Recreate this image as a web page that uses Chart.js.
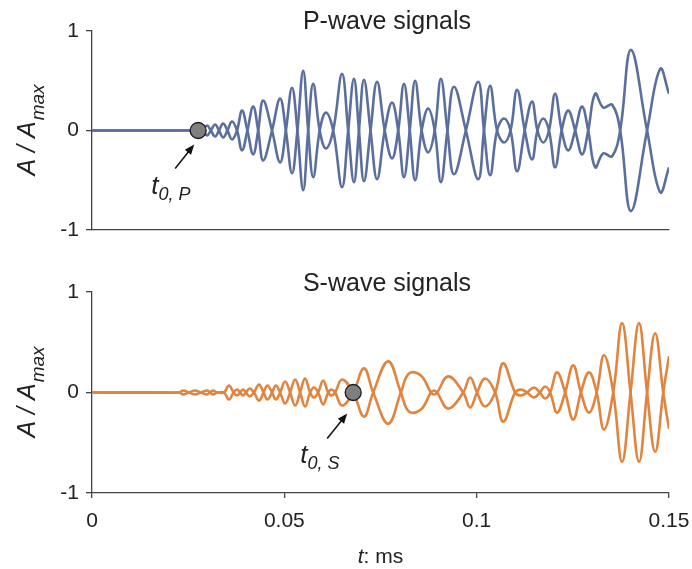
<!DOCTYPE html>
<html>
<head>
<meta charset="utf-8">
<script src="https://cdn.jsdelivr.net/npm/chart.js@4.4.0/dist/chart.umd.min.js"></script>
<style>
    html, body { margin: 0; padding: 0; background: #fff; }
    #wrap { position: relative; width: 692px; height: 569px; }
    .panel { position: absolute; left: 0; width: 692px; }
</style>
</head>
<body>
<div id="wrap">
    <div class="panel" style="top:0;height:262px"><canvas id="p-chart" width="692" height="262"></canvas></div>
    <div class="panel" style="top:262px;height:307px"><canvas id="s-chart" width="692" height="307"></canvas></div>
</div>
<script>
// 坐标轴刻度
const xTicks = [0, 0.05, 0.1, 0.15];
const yTicks = [-1, 0, 1];

// P 波: 时间 (ms) 与两条镜像曲线
const pTime = [0, 0.0276, 0.0286, 0.0299, 0.0309, 0.0320, 0.0330, 0.0341, 0.0352, 0.0364,
    0.0377, 0.0390, 0.0404, 0.0419, 0.0432, 0.0445, 0.0468, 0.0489, 0.0504, 0.0520,
    0.0534, 0.0549, 0.0562, 0.0575, 0.0592, 0.0608, 0.0627, 0.0650, 0.0666, 0.0681,
    0.0694, 0.0707, 0.0724, 0.0741, 0.0761, 0.0780, 0.0796, 0.0811, 0.0826, 0.0840,
    0.0857, 0.0874, 0.0891, 0.0907, 0.0924, 0.0941, 0.0972, 0.1004, 0.1019, 0.1035,
    0.1053, 0.1071, 0.1088, 0.1105, 0.1125, 0.1144, 0.1158, 0.1173, 0.1188, 0.1204,
    0.1221, 0.1238, 0.1256, 0.1274, 0.1290, 0.1308, 0.1329, 0.1352, 0.1373, 0.1401,
    0.1443, 0.1477, 0.1500];
const pWaveA = [0, 0, 0, 0.05, 0, -0.06, 0, 0.07, 0, -0.09,
    0, 0.20, 0, -0.24, 0, 0.30, 0, -0.32, 0, 0.43,
    0, -0.60, 0, 0.47, 0, -0.18, 0, 0.57, 0, -0.52,
    0, 0.51, 0, -0.49, 0, 0.28, 0, -0.47, 0, 0.50,
    0, -0.22, 0, 0.52, 0, -0.44, 0, 0.49, 0, -0.45,
    0, 0.12, 0, -0.41, 0, 0.29, 0, -0.12, 0, 0.37,
    0, -0.20, 0, 0.24, 0, -0.37, -0.23, -0.26, 0, 0.81,
    0, -0.62, -0.37];
const pWaveB = [0, 0, 0, -0.05, 0, 0.06, 0, -0.07, 0, 0.09,
    0, -0.20, 0, 0.24, 0, -0.30, 0, 0.32, 0, -0.43,
    0, 0.60, 0, -0.47, 0, 0.18, 0, -0.57, 0, 0.52,
    0, -0.51, 0, 0.49, 0, -0.28, 0, 0.47, 0, -0.50,
    0, 0.22, 0, -0.52, 0, 0.44, 0, -0.49, 0, 0.45,
    0, -0.12, 0, 0.41, 0, -0.29, 0, 0.12, 0, -0.37,
    0, 0.20, 0, -0.24, 0, 0.37, 0.23, 0.26, 0, -0.81,
    0, 0.62, 0.37];
const pOnset = 0.0276;

// S 波: 时间 (ms) 与两条镜像曲线
const sTime = [0, 0.0226, 0.0237, 0.0252, 0.0268, 0.0283, 0.0299, 0.0307, 0.0315, 0.0325,
    0.0343, 0.0356, 0.0368, 0.0377, 0.0385, 0.0393, 0.0400, 0.0410, 0.0421, 0.0434,
    0.0446, 0.0456, 0.0468, 0.0478, 0.0489, 0.0502, 0.0515, 0.0528, 0.0541, 0.0554,
    0.0567, 0.0577, 0.0588, 0.0601, 0.0614, 0.0623, 0.0632, 0.0650, 0.0679, 0.0707,
    0.0731, 0.0770, 0.0803, 0.0824, 0.0855, 0.0881, 0.0889, 0.0897, 0.0926, 0.0965,
    0.0983, 0.1001, 0.1022, 0.1048, 0.1069, 0.1100, 0.1115, 0.1131, 0.1149, 0.1164,
    0.1178, 0.1191, 0.1209, 0.1230, 0.1251, 0.1271, 0.1292, 0.1312, 0.1331, 0.1355,
    0.1378, 0.1400, 0.1422, 0.1443, 0.1464, 0.1485, 0.1500];
const sWaveA = [0, 0, 0.02, 0, -0.02, 0, 0.02, 0, -0.02, 0,
    0, 0.07, 0, -0.03, 0, 0.03, 0, -0.04, 0, 0.08,
    0, -0.07, 0, 0.07, 0, -0.11, 0, 0.13, 0, -0.14,
    0, 0.05, 0, -0.12, 0, 0.03, 0, -0.13, 0, 0.24,
    0, -0.31, 0, 0.19, 0.17, 0, -0.02, 0, 0.16, 0,
    -0.15, 0, 0.14, 0, -0.29, 0, 0.03, 0, -0.05, 0,
    0.06, 0, -0.20, 0, 0.27, 0, -0.20, 0, 0.37, 0,
    -0.69, 0, 0.69, 0, -0.59, 0, 0.36];
const sWaveB = [0, 0, -0.02, 0, 0.02, 0, -0.02, 0, 0.02, 0,
    0, -0.07, 0, 0.03, 0, -0.03, 0, 0.04, 0, -0.08,
    0, 0.07, 0, -0.07, 0, 0.11, 0, -0.13, 0, 0.14,
    0, -0.05, 0, 0.12, 0, -0.03, 0, 0.13, 0, -0.24,
    0, 0.31, 0, -0.19, -0.17, 0, 0.02, 0, -0.16, 0,
    0.15, 0, -0.14, 0, 0.29, 0, -0.03, 0, 0.05, 0,
    -0.06, 0, 0.20, 0, -0.27, 0, 0.20, 0, -0.37, 0,
    0.69, 0, -0.69, 0, 0.59, 0, -0.36];
const sOnset = 0.0679;

const FONT = '"Liberation Sans", Arial, sans-serif';
const AXIS_COLOR = '#444';
const TEXT_COLOR = '#222';

// 标题、纵轴标题、起跳点箭头和标注
const panelDecor = {
    id: 'panelDecor',
    afterDraw(chart, args, opts) {
        const ctx = chart.ctx;
        const area = chart.chartArea;
        const xs = chart.scales.x;
        const ys = chart.scales.y;
        ctx.save();
        ctx.fillStyle = TEXT_COLOR;
        ctx.strokeStyle = '#111';

        // 面板标题
        ctx.font = '25px ' + FONT;
        ctx.textAlign = 'center';
        ctx.textBaseline = 'alphabetic';
        ctx.fillText(opts.title, opts.titleX, opts.titleY);

        // 纵轴标题 A / A_max
        ctx.save();
        ctx.translate(35, (area.top + area.bottom) / 2);
        ctx.rotate(-Math.PI / 2);
        ctx.textAlign = 'left';
        ctx.font = 'italic 25px ' + FONT;
        const w1 = ctx.measureText('A / A').width;
        ctx.font = 'italic 19px ' + FONT;
        const w2 = ctx.measureText('max').width;
        const x0 = -(w1 + w2) / 2;
        ctx.font = 'italic 25px ' + FONT;
        ctx.fillText('A / A', x0, 0);
        ctx.font = 'italic 19px ' + FONT;
        ctx.fillText('max', x0 + w1 + 1, 9);
        ctx.restore();

        // 起跳点箭头
        const px = xs.getPixelForValue(opts.onset);
        const py = ys.getPixelForValue(0);
        const hx = px + opts.arrow[0], hy = py + opts.arrow[1];
        const tx = px + opts.arrow[2], ty = py + opts.arrow[3];
        const ang = Math.atan2(hy - ty, hx - tx);
        ctx.lineWidth = 1.5;
        ctx.beginPath();
        ctx.moveTo(tx, ty);
        ctx.lineTo(hx - 6 * Math.cos(ang), hy - 6 * Math.sin(ang));
        ctx.stroke();
        ctx.fillStyle = '#111';
        ctx.beginPath();
        ctx.moveTo(hx, hy);
        ctx.lineTo(hx - 10 * Math.cos(ang) + 4 * Math.sin(ang), hy - 10 * Math.sin(ang) - 4 * Math.cos(ang));
        ctx.lineTo(hx - 10 * Math.cos(ang) - 4 * Math.sin(ang), hy - 10 * Math.sin(ang) + 4 * Math.cos(ang));
        ctx.closePath();
        ctx.fill();

        // t_{0, P}
        ctx.fillStyle = TEXT_COLOR;
        ctx.textAlign = 'left';
        const lx = px + opts.label[0], ly = py + opts.label[1];
        ctx.font = 'italic 26px ' + FONT;
        ctx.fillText('t', lx, ly);
        const tw = ctx.measureText('t').width;
        ctx.font = 'italic 18px ' + FONT;
        ctx.fillText(opts.sub, lx + tw, ly + 6);

        // 横轴标题 t: ms
        if (opts.xTitle) {
            ctx.font = 'italic 21px ' + FONT;
            const a = ctx.measureText('t').width;
            ctx.font = '21px ' + FONT;
            const b = ctx.measureText(': ms').width;
            const sx = (area.left + area.right) / 2 - (a + b) / 2;
            ctx.font = 'italic 21px ' + FONT;
            ctx.fillText('t', sx, opts.xTitleY);
            ctx.font = '21px ' + FONT;
            ctx.fillText(': ms', sx + a, opts.xTitleY);
        }
        ctx.restore();
    }
};

function makePanel(canvasId, cfg) {
    const ctx = document.getElementById(canvasId);
    const toXY = (ys) => cfg.time.map((t, i) => ({ x: t, y: ys[i] }));
    const waveStyle = {
        borderColor: cfg.color,
        borderWidth: 2.6,
        pointRadius: 0,
        tension: 0.4,
        fill: false
    };
    return new Chart(ctx, {
        type: 'line',
        data: {
            datasets: [
                {
                    data: [{ x: cfg.onset, y: 0 }],
                    showLine: false,
                    pointRadius: 8,
                    pointBackgroundColor: '#7f7f7f',
                    pointBorderColor: '#1a1a1a',
                    pointBorderWidth: 1.3
                },
                Object.assign({ data: toXY(cfg.waveA) }, waveStyle),
                Object.assign({ data: toXY(cfg.waveB) }, waveStyle)
            ]
        },
        options: {
            responsive: false,
            animation: false,
            layout: { padding: { top: cfg.padTop, right: 23, bottom: 0, left: 0 } },
            plugins: {
                legend: { display: false },
                tooltip: { enabled: false },
                panelDecor: cfg.decor
            },
            scales: {
                x: {
                    type: 'linear',
                    min: 0,
                    max: 0.15,
                    afterBuildTicks: (s) => { s.ticks = xTicks.map(v => ({ value: v })); },
                    afterFit: (s) => {
                        s.height = cfg.xHeight;
                        s.paddingLeft = 0;
                        s.paddingRight = 0;
                    },
                    border: { display: true, color: AXIS_COLOR, width: 1.3 },
                    grid: { drawOnChartArea: false, drawTicks: cfg.xLabels, tickLength: 5, color: AXIS_COLOR, lineWidth: 1.3 },
                    ticks: {
                        display: cfg.xLabels,
                        padding: 11,
                        color: TEXT_COLOR,
                        font: { family: FONT, size: 21 },
                        maxRotation: 0,
                        callback: (v) => String(v)
                    }
                },
                y: {
                    min: -1,
                    max: 1,
                    afterBuildTicks: (s) => { s.ticks = yTicks.map(v => ({ value: v })); },
                    afterFit: (s) => {
                        s.width = 92;
                        s.paddingTop = 0;
                        s.paddingBottom = 0;
                    },
                    border: { display: true, color: AXIS_COLOR, width: 1.3 },
                    grid: { drawOnChartArea: false, drawTicks: true, tickLength: 6, color: AXIS_COLOR, lineWidth: 1.3 },
                    ticks: {
                        padding: 7,
                        color: TEXT_COLOR,
                        font: { family: FONT, size: 21 }
                    }
                }
            }
        },
        plugins: [panelDecor]
    });
}

makePanel('p-chart', {
    time: pTime, waveA: pWaveA, waveB: pWaveB, onset: pOnset,
    color: '#5b6f9d', padTop: 31, xHeight: 32, xLabels: false,
    decor: { title: 'P-wave signals', titleX: 387, titleY: 29, onset: pOnset,
        arrow: [-4, 14, -23, 38], label: [-47, 63], sub: '0, P', xTitle: false }
});

makePanel('s-chart', {
    time: sTime, waveA: sWaveA, waveB: sWaveB, onset: sOnset,
    color: '#e0843f', padTop: 30, xHeight: 76, xLabels: true,
    decor: { title: 'S-wave signals', titleX: 387, titleY: 29, onset: sOnset,
        arrow: [-6, 21, -26, 46], label: [-53, 70], sub: '0, S', xTitle: true, xTitleY: 301 }
});
</script>
</body>
</html>
